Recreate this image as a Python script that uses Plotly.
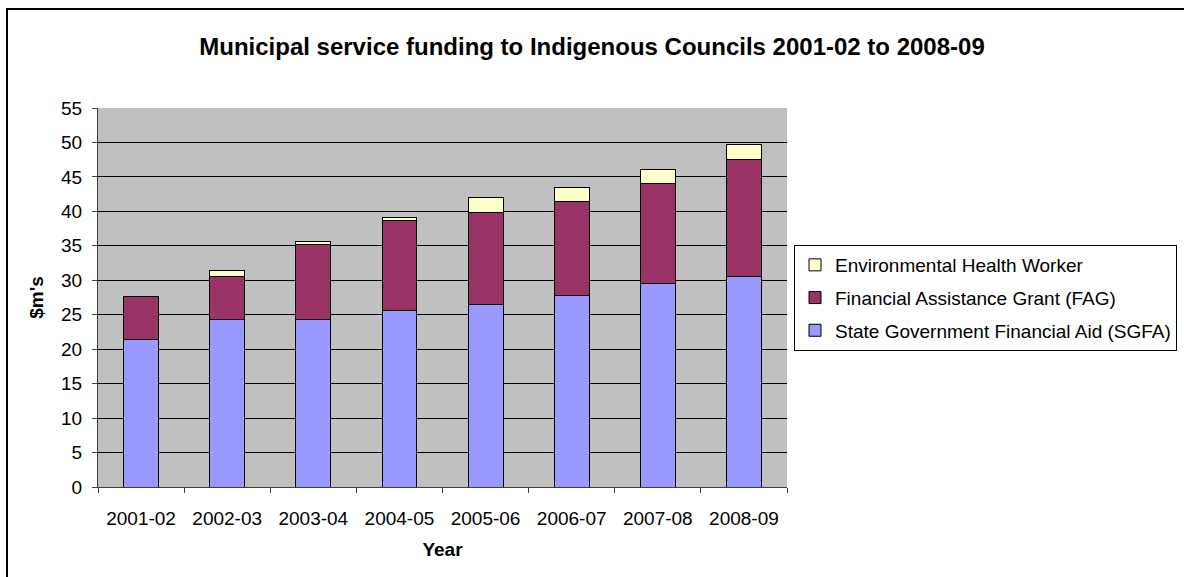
import plotly.graph_objects as go

years = ["2001-02", "2002-03", "2003-04", "2004-05", "2005-06", "2006-07", "2007-08", "2008-09"]
sgfa = [21.4, 24.3, 24.3, 25.6, 26.5, 27.8, 29.6, 30.6]
fag = [6.2, 6.3, 10.9, 13.1, 13.4, 13.7, 14.4, 16.9]
ehw = [0.0, 0.8, 0.4, 0.4, 2.1, 2.0, 2.1, 2.2]

FONT = "Liberation Sans, Arial, sans-serif"
line = dict(color="black", width=1)

fig = go.Figure()
fig.add_trace(go.Bar(x=years, y=sgfa, name="State Government Financial Aid (SGFA)",
                     legendgroup="a", legendrank=3, marker=dict(color="#9999FF", line=line)))
fig.add_trace(go.Bar(x=years, y=fag, name="Financial Assistance Grant (FAG)",
                     legendgroup="b", legendrank=2, marker=dict(color="#993366", line=line)))
fig.add_trace(go.Bar(x=years, y=ehw, name="Environmental Health Worker",
                     legendgroup="c", legendrank=1, marker=dict(color="#FFFFCC", line=line)))

L, R, T, B = 98, 787, 108, 487
W, H = 1184, 577
pw, ph = R - L, B - T

fig.update_layout(
    width=W, height=H,
    barmode="stack", bargap=0.595,
    margin=dict(l=L, r=W - R, t=T, b=H - B, autoexpand=False),
    paper_bgcolor="white", plot_bgcolor="#C0C0C0",
    font=dict(family=FONT, size=19, color="black"),
    title=dict(text="<b>Municipal service funding to Indigenous Councils 2001-02 to 2008-09</b>",
               x=0.5, xanchor="center", y=1 - 47 / H, yanchor="middle",
               font=dict(size=24, family=FONT)),
    legend=dict(x=(794 - L) / pw, y=(B - 245) / ph, xanchor="left", yanchor="top",
                traceorder="grouped", bordercolor="black", borderwidth=1,
                bgcolor="white", font=dict(size=19, family=FONT),
                itemwidth=30, tracegroupgap=5),
    xaxis=dict(type="category", showline=True, linecolor="#404040", linewidth=1,
               ticks="outside", tickson="boundaries", ticklen=5, tickcolor="#404040",
               showgrid=False, tickfont=dict(size=19), ticklabelstandoff=14,
               title=dict(text="<b>Year</b>", font=dict(size=19), standoff=14)),
    yaxis=dict(range=[0, 55], dtick=5, showline=True, linecolor="#404040", linewidth=1,
               ticks="outside", ticklen=5, tickcolor="#404040", ticklabelstandoff=6,
               showgrid=True, gridcolor="black", gridwidth=1, zeroline=False,
               tickfont=dict(size=19),
               title=dict(text="<b>$m's</b>", font=dict(size=19), standoff=12)),
    showlegend=True,
)

fig.add_shape(type="rect", xref="paper", yref="paper",
              x0=(7 - L) / pw, x1=(W + 10 - L) / pw,
              y0=(B - (H + 10)) / ph, y1=(B - 9) / ph,
              line=dict(color="black", width=2), fillcolor="rgba(0,0,0,0)", layer="below")

fig.write_html("out.html")
